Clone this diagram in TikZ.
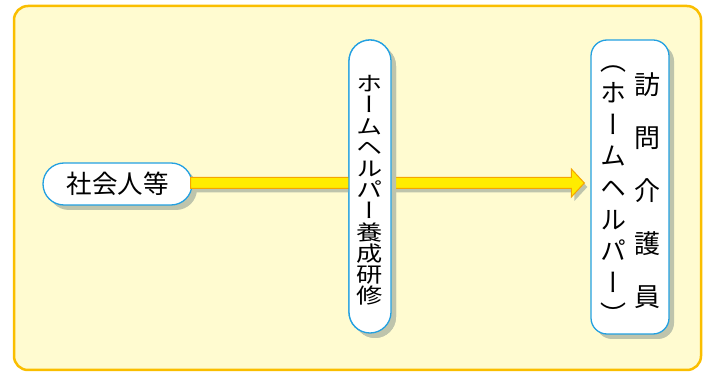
\documentclass[tikz,border=0pt]{standalone}
\usepackage{fontspec}
\setmainfont{Noto Sans CJK JP}
\newfontfamily\tate[RawFeature=+vert]{Noto Sans CJK JP}
\newfontfamily\tatewide[RawFeature=+vert,FakeStretch=1.25]{Noto Sans CJK JP}
\usepackage{tikz}
\usetikzlibrary{calc,positioning,shadows}
\definecolor{framefill}{RGB}{255,251,208}
\definecolor{frameline}{RGB}{250,190,0}
\definecolor{boxline}{RGB}{35,160,225}
\definecolor{boxshadow}{RGB}{190,196,172}
\definecolor{arrowfill}{RGB}{255,236,0}
\definecolor{arrowline}{RGB}{245,165,0}
\tikzset{
  frame/.style={draw=frameline,fill=framefill,line width=2.5pt,rounded corners=14pt},
  box/.style={draw=boxline,fill=white,line width=1.3pt,inner sep=0,
    drop shadow={shadow xshift=5pt,shadow yshift=-5pt,fill=boxshadow,opacity=1}},
  hbox/.style={box,minimum width=149pt,minimum height=42pt,rounded corners=21pt,
    font=\fontsize{25.5}{25.5}\selectfont},
  vbox/.style={box,minimum width=42pt,minimum height=293pt,rounded corners=21pt},
  wbox/.style={box,minimum width=78pt,minimum height=294pt,rounded corners=16pt},
  column/.style={inner sep=0,align=center},
  arrbody/.style={draw=arrowline,fill=arrowfill,line width=1pt,line join=miter},
  arrshadow/.style={fill=boxshadow}
}

\begin{document}
\begin{tikzpicture}[x=1pt,y=1pt]
    \useasboundingbox (0,0) rectangle (707,372);
    \path [frame] (14,2) rectangle (701,366);

    \node (society) [hbox] at (117.5,188) {社会人等};
    \node (training) [vbox] at (370,185.5) {};
    \node (visit) [wbox] at (630,185) {};

    % arrow behind the training box
    \coordinate (tail) at ($(society.east)+(-2,1)$);
    \coordinate (tip) at ($(visit.west)+(-6,4)$);
    \foreach \dx/\dy/\sty in {3/-4/arrshadow,0/0/arrbody} {
      \path [\sty] ([shift={(\dx,5.5+\dy)}]tail) -- ([shift={(-13+\dx,5.5+\dy)}]tip)
        -- ([shift={(-13+\dx,14+\dy)}]tip) -- ([shift={(\dx,\dy)}]tip)
        -- ([shift={(-13+\dx,-14+\dy)}]tip) -- ([shift={(-13+\dx,-5.5+\dy)}]tip)
        -- ([shift={(\dx,-5.5+\dy)}]tail) -- cycle;
    }
    \node [vbox] at (training) {};

    \node (traininglabel) [column,font=\tatewide\fontsize{21}{21.2}\selectfont]
      at ([yshift=-4]training.center) {ホ\\ー\\ム\\ヘ\\ル\\パ\\ー\\養\\成\\研\\修};
    \node (visitleft) [column,font=\tate\fontsize{26}{31.7}\selectfont]
      at ([shift={(-17,-8)}]visit.center) {（\\ホ\\ー\\ム\\ヘ\\ル\\パ\\ー\\）};
    \node (visitright) [column,font=\fontsize{26}{53}\selectfont]
      at ([shift={(17,-4)}]visit.center) {訪\\問\\介\\護\\員};
\end{tikzpicture}
\end{document}
